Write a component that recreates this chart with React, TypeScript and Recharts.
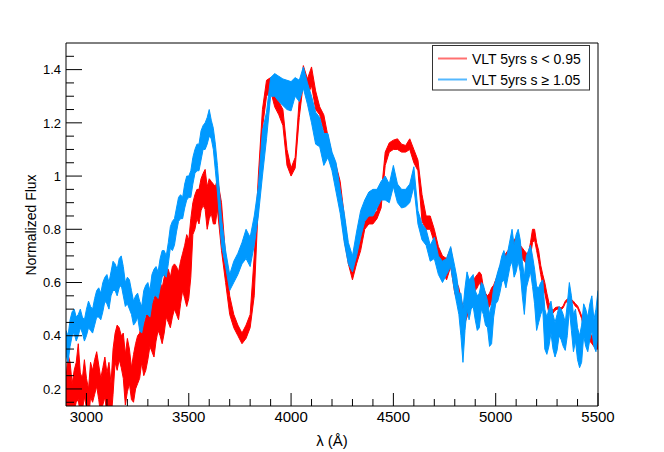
import React from "react";
import { ComposedChart, Area, XAxis, YAxis, ReferenceArea } from "recharts";

// wavelength grid (Å), 20 Å steps
const LAMBDA = [
  2900, 2920, 2940, 2960, 2980, 3000, 3020, 3040, 3060, 3080, 3100, 3120, 3140, 3160, 3180, 3200, 3220, 3240, 3260, 3280,
  3300, 3320, 3340, 3360, 3380, 3400, 3420, 3440, 3460, 3480, 3500, 3520, 3540, 3560, 3580, 3600, 3620, 3640, 3660, 3680,
  3700, 3720, 3740, 3760, 3780, 3800, 3820, 3840, 3860, 3880, 3900, 3920, 3940, 3960, 3980, 4000, 4020, 4040, 4060, 4080,
  4100, 4120, 4140, 4160, 4180, 4200, 4220, 4240, 4260, 4280, 4300, 4320, 4340, 4360, 4380, 4400, 4420, 4440, 4460, 4480,
  4500, 4520, 4540, 4560, 4580, 4600, 4620, 4640, 4660, 4680, 4700, 4720, 4740, 4760, 4780, 4800, 4820, 4840, 4860, 4880,
  4900, 4920, 4940, 4960, 4980, 5000, 5020, 5040, 5060, 5080, 5100, 5120, 5140, 5160, 5180, 5200, 5220, 5240, 5260, 5280,
  5300, 5320, 5340, 5360, 5380, 5400, 5420, 5440, 5460, 5480, 5500,
];

// VLT 5yrs s < 0.95 (red band)
const RED_LO = [
  0.10, 0.10, 0.12, 0.16, 0.12, 0.13, 0.17, 0.18, 0.16, 0.14, 0.10, 0.08, 0.30, 0.31, 0.24, 0.19, 0.16, 0.20, 0.24, 0.25,
  0.31, 0.34, 0.38, 0.40, 0.41, 0.45, 0.47, 0.48, 0.52, 0.54, 0.54, 0.78, 0.84, 0.87, 0.875, 0.84, 0.82, 0.875, 0.72, 0.60,
  0.48, 0.43, 0.40, 0.37, 0.39, 0.43, 0.55, 0.90, 1.18, 1.30, 1.32, 1.26, 1.23, 1.19, 1.04, 1.00, 1.03, 1.22, 1.35, 1.30,
  1.34, 1.25, 1.23, 1.17, 1.08, 1.04, 0.99, 0.92, 0.76, 0.67, 0.61, 0.67, 0.72, 0.80, 0.82, 0.82, 0.84, 0.88, 1.04, 1.09,
  1.10, 1.10, 1.09, 1.09, 1.10, 1.05, 1.02, 0.83, 0.80, 0.80, 0.75, 0.685, 0.64, 0.61, 0.66, 0.56, 0.52, 0.44, 0.47, 0.55,
  0.57, 0.60, 0.53, 0.50, 0.53, 0.56, 0.61, 0.65, 0.68, 0.70, 0.72, 0.71, 0.68, 0.67, 0.75, 0.72, 0.63, 0.56, 0.485, 0.485,
  0.50, 0.497, 0.522, 0.532, 0.522, 0.505, 0.465, 0.41, 0.38, 0.36, 0.35,
];
const RED_HI = [
  0.24, 0.30, 0.27, 0.37, 0.24, 0.24, 0.30, 0.31, 0.29, 0.28, 0.26, 0.22, 0.41, 0.43, 0.41, 0.39, 0.28, 0.37, 0.41, 0.44,
  0.52, 0.55, 0.58, 0.60, 0.62, 0.65, 0.66, 0.66, 0.68, 0.74, 0.76, 0.90, 0.95, 0.99, 1.025, 0.99, 0.97, 0.99, 0.90, 0.70,
  0.55, 0.48, 0.44, 0.41, 0.44, 0.48, 0.70, 1.00, 1.25, 1.36, 1.37, 1.32, 1.28, 1.25, 1.10, 1.03, 1.07, 1.29, 1.415, 1.365,
  1.41, 1.32, 1.26, 1.23, 1.15, 1.08, 1.04, 0.98, 0.85, 0.72, 0.65, 0.72, 0.76, 0.85, 0.86, 0.85, 0.87, 0.93, 1.09, 1.125,
  1.135, 1.14, 1.12, 1.115, 1.14, 1.10, 1.06, 0.93, 0.85, 0.85, 0.80, 0.735, 0.70, 0.69, 0.73, 0.63, 0.58, 0.51, 0.55, 0.60,
  0.62, 0.64, 0.58, 0.55, 0.58, 0.61, 0.66, 0.70, 0.72, 0.74, 0.77, 0.74, 0.72, 0.71, 0.80, 0.75, 0.665, 0.60, 0.525, 0.495,
  0.508, 0.505, 0.53, 0.54, 0.53, 0.513, 0.475, 0.43, 0.41, 0.40, 0.40,
];

// VLT 5yrs s >= 1.05 (blue band)
const BLUE_LO = [
  0.33, 0.36, 0.41, 0.40, 0.41, 0.40, 0.42, 0.44, 0.47, 0.49, 0.52, 0.55, 0.57, 0.58, 0.55, 0.52, 0.48, 0.45, 0.42, 0.45,
  0.48, 0.52, 0.55, 0.58, 0.63, 0.67, 0.72, 0.79, 0.84, 0.88, 0.92, 0.97, 1.02, 1.06, 1.10, 1.15, 1.10, 0.94, 0.74, 0.66,
  0.57, 0.60, 0.63, 0.67, 0.69, 0.66, 0.74, 0.85, 1.00, 1.14, 1.30, 1.30, 1.28, 1.265, 1.25, 1.245, 1.30, 1.28, 1.33, 1.27,
  1.20, 1.12, 1.11, 1.04, 1.07, 1.02, 0.94, 0.86, 0.75, 0.67, 0.64, 0.70, 0.77, 0.83, 0.85, 0.85, 0.88, 0.91, 0.91, 0.90,
  0.96, 0.90, 0.88, 0.885, 0.90, 0.96, 0.82, 0.76, 0.74, 0.68, 0.69, 0.63, 0.60, 0.63, 0.66, 0.56, 0.48, 0.30, 0.50, 0.50,
  0.46, 0.43, 0.48, 0.43, 0.37, 0.52, 0.56, 0.61, 0.62, 0.68, 0.64, 0.64, 0.48, 0.61, 0.585, 0.42, 0.48, 0.35, 0.36, 0.35,
  0.345, 0.385, 0.345, 0.50, 0.34, 0.31, 0.30, 0.36, 0.385, 0.36, 0.40,
];
const BLUE_HI = [
  0.42, 0.46, 0.50, 0.48, 0.47, 0.50, 0.51, 0.54, 0.58, 0.60, 0.63, 0.64, 0.67, 0.69, 0.66, 0.62, 0.57, 0.55, 0.53, 0.57,
  0.60, 0.63, 0.66, 0.69, 0.72, 0.75, 0.83, 0.88, 0.93, 0.97, 1.00, 1.07, 1.12, 1.17, 1.20, 1.25, 1.18, 1.04, 0.84, 0.72,
  0.63, 0.68, 0.71, 0.75, 0.80, 0.77, 0.85, 0.96, 1.17, 1.24, 1.37, 1.385, 1.375, 1.365, 1.36, 1.355, 1.37, 1.36, 1.41, 1.35,
  1.30, 1.24, 1.22, 1.16, 1.16, 1.09, 1.05, 0.95, 0.86, 0.75, 0.70, 0.79, 0.87, 0.91, 0.94, 0.95, 0.95, 0.98, 1.00, 0.97,
  1.04, 0.97, 0.95, 0.95, 0.97, 1.035, 0.87, 0.82, 0.80, 0.74, 0.77, 0.70, 0.68, 0.69, 0.735, 0.66, 0.56, 0.50, 0.64, 0.62,
  0.57, 0.56, 0.59, 0.53, 0.52, 0.61, 0.665, 0.72, 0.72, 0.80, 0.78, 0.76, 0.62, 0.72, 0.70, 0.585, 0.60, 0.50, 0.50, 0.48,
  0.48, 0.50, 0.45, 0.60, 0.48, 0.43, 0.44, 0.50, 0.52, 0.46, 0.57,
];

// extra samples in the noisy parts of the spectra (odd 10 Å positions)
const LAMBDA_FINE = [
  2910, 2930, 2950, 2970, 2990, 3010, 3030, 3050, 3070, 3090, 3110, 3130, 3150, 3170, 3190, 3210, 3230, 3250, 3270, 3290,
  3310, 3330, 3350, 3370, 3390, 3410, 3430, 3450, 3470, 3490, 3510, 3530, 3550, 3570, 3590, 3610, 3630,
  4810, 4830, 4850, 4870, 4890, 4910, 4930, 4950, 4970, 4990, 5010, 5030, 5050, 5070, 5090, 5110, 5130, 5150, 5170, 5190,
  5210, 5230, 5250, 5270, 5290, 5310, 5330, 5350, 5370, 5390, 5410, 5430, 5450, 5470, 5490,
];
const RED_LO_FINE = [
  0.14, 0.08, 0.15, 0.10, 0.17, 0.08, 0.15, 0.21, 0.10, 0.17, 0.13, 0.18, 0.27, 0.28, 0.14, 0.22, 0.15, 0.22, 0.30, 0.27,
  0.36, 0.32, 0.42, 0.37, 0.47, 0.43, 0.50, 0.46, 0.57, 0.51, 0.62, 0.80, 0.82, 0.89, 0.80, 0.86, 0.82,
  0.54, 0.47, 0.45, 0.51, 0.56, 0.58, 0.58, 0.50, 0.51, 0.54, 0.58, 0.63, 0.66, 0.69, 0.71, 0.73, 0.69, 0.67, 0.70, 0.76,
  0.68, 0.59, 0.52, 0.485, 0.495, 0.50, 0.505, 0.53, 0.528, 0.51, 0.485, 0.43, 0.39, 0.37, 0.35,
];
const RED_HI_FINE = [
  0.33, 0.22, 0.30, 0.26, 0.31, 0.20, 0.27, 0.34, 0.24, 0.32, 0.30, 0.35, 0.44, 0.40, 0.33, 0.35, 0.33, 0.40, 0.46, 0.47,
  0.54, 0.53, 0.60, 0.58, 0.65, 0.62, 0.67, 0.64, 0.71, 0.78, 0.84, 0.93, 0.95, 1.01, 0.96, 0.98, 0.96,
  0.60, 0.54, 0.52, 0.58, 0.61, 0.63, 0.63, 0.56, 0.56, 0.59, 0.63, 0.68, 0.71, 0.73, 0.76, 0.77, 0.73, 0.71, 0.75, 0.80,
  0.72, 0.63, 0.56, 0.505, 0.505, 0.508, 0.513, 0.538, 0.536, 0.52, 0.495, 0.45, 0.41, 0.40, 0.39,
];
const BLUE_LO_FINE = [
  0.30, 0.40, 0.38, 0.43, 0.38, 0.43, 0.41, 0.47, 0.46, 0.53, 0.50, 0.57, 0.55, 0.59, 0.51, 0.50, 0.44, 0.47, 0.41, 0.48,
  0.47, 0.55, 0.54, 0.62, 0.62, 0.73, 0.74, 0.83, 0.84, 0.91, 0.92, 1.01, 1.02, 1.10, 1.12, 1.14, 1.02,
  0.52, 0.40, 0.42, 0.46, 0.51, 0.42, 0.50, 0.44, 0.36, 0.47, 0.53, 0.60, 0.58, 0.66, 0.62, 0.68, 0.55, 0.58, 0.64, 0.52,
  0.45, 0.50, 0.33, 0.41, 0.32, 0.40, 0.36, 0.40, 0.42, 0.38, 0.28, 0.40, 0.34, 0.42, 0.34,
];
const BLUE_HI_FINE = [
  0.40, 0.49, 0.47, 0.50, 0.46, 0.53, 0.50, 0.57, 0.56, 0.62, 0.60, 0.68, 0.65, 0.70, 0.60, 0.61, 0.53, 0.56, 0.51, 0.59,
  0.57, 0.65, 0.64, 0.72, 0.70, 0.81, 0.84, 0.92, 0.92, 1.00, 1.02, 1.10, 1.12, 1.19, 1.22, 1.21, 1.12,
  0.62, 0.56, 0.58, 0.61, 0.63, 0.55, 0.60, 0.56, 0.48, 0.58, 0.64, 0.70, 0.69, 0.76, 0.74, 0.80, 0.68, 0.70, 0.74, 0.65,
  0.58, 0.61, 0.47, 0.53, 0.45, 0.51, 0.48, 0.52, 0.55, 0.50, 0.40, 0.52, 0.47, 0.55, 0.50,
];

const X_TICKS = [
  3000, 3100, 3200, 3300, 3400, 3500, 3600, 3700, 3800, 3900, 4000, 4100, 4200, 4300, 4400, 4500, 4600, 4700, 4800, 4900,
  5000, 5100, 5200, 5300, 5400, 5500,
];
const Y_TICKS = [
  0.15, 0.2, 0.25, 0.3, 0.35, 0.4, 0.45, 0.5, 0.55, 0.6, 0.65, 0.7, 0.75, 0.8, 0.85, 0.9, 0.95, 1, 1.05, 1.1, 1.15, 1.2,
  1.25, 1.3, 1.35, 1.4, 1.45,
];

const X_MIN = 2900;
const X_MAX = 5500;
const Y_MIN = 0.136;
const Y_MAX = 1.5;

const RED = "#ff0000";
const BLUE = "#0099ff";
const FONT = "'Liberation Sans', Arial, Helvetica, sans-serif";

const data = [
  ...LAMBDA.map((lam, i) => ({
    lam,
    red: [RED_LO[i], RED_HI[i]],
    blue: [BLUE_LO[i], BLUE_HI[i]],
  })),
  ...LAMBDA_FINE.map((lam, i) => ({
    lam,
    red: [RED_LO_FINE[i], RED_HI_FINE[i]],
    blue: [BLUE_LO_FINE[i], BLUE_HI_FINE[i]],
  })),
].sort((a, b) => a.lam - b.lam);

function XTick(props: any) {
  const { x, y, payload } = props;
  const v = payload.value as number;
  const major = v % 500 === 0;
  return (
    <g>
      <line x1={x} x2={x} y1={y} y2={y - (major ? 13 : 7)} stroke="#000" />
      {major && (
        <text x={x} y={y + 16} textAnchor="middle" fontSize={15} fontFamily={FONT} fill="#000">
          {v}
        </text>
      )}
    </g>
  );
}

function YTick(props: any) {
  const { x, y, payload } = props;
  const v = payload.value as number;
  const major = Math.abs(v * 5 - Math.round(v * 5)) < 1e-6;
  return (
    <g>
      <line x1={x} x2={x + (major ? 16 : 8)} y1={y} y2={y} stroke="#000" />
      {major && (
        <text x={x - 5} y={y + 4.7} textAnchor="end" fontSize={13} fontFamily={FONT} fill="#000">
          {String(v)}
        </text>
      )}
    </g>
  );
}

export default function App() {
  return (
    <div style={{ position: "absolute", left: 0, top: 0, width: 664, height: 452, background: "#fff" }}>
      <ComposedChart
        width={664}
        height={452}
        data={data}
        margin={{ top: 43, right: 66, bottom: 16, left: 0 }}
      >
        <XAxis
          dataKey="lam"
          type="number"
          domain={[X_MIN, X_MAX]}
          ticks={X_TICKS}
          interval={0}
          allowDataOverflow
          height={30}
          tickSize={0}
          tickMargin={0}
          tickLine={false}
          axisLine={false}
          tick={(p: any) => <XTick {...p} />}
        />
        <YAxis
          type="number"
          domain={[Y_MIN, Y_MAX]}
          ticks={Y_TICKS}
          interval={0}
          allowDataOverflow
          width={66}
          tickSize={0}
          tickMargin={0}
          tickLine={false}
          axisLine={false}
          tick={(p: any) => <YTick {...p} />}
        />
        <Area
          dataKey="red"
          type="linear"
          stroke={RED}
          strokeWidth={1}
          fill={RED}
          fillOpacity={1}
          dot={false}
          activeDot={false}
          isAnimationActive={false}
        />
        <Area
          dataKey="blue"
          type="linear"
          stroke={BLUE}
          strokeWidth={1}
          fill={BLUE}
          fillOpacity={1}
          dot={false}
          activeDot={false}
          isAnimationActive={false}
        />
        <ReferenceArea
          x1={X_MIN}
          x2={X_MAX}
          y1={Y_MIN}
          y2={Y_MAX}
          fill="none"
          stroke="#000"
          strokeWidth={1}
          ifOverflow="visible"
        />
      </ComposedChart>
      <svg
        width={664}
        height={452}
        style={{ position: "absolute", left: 0, top: 0, pointerEvents: "none" }}
        fontFamily={FONT}
      >
        <text x={332} y={446} textAnchor="middle" fontSize={15}>
          λ (Å)
        </text>
        <text x={36} y={225} textAnchor="middle" fontSize={14} transform="rotate(-90 36 225)">
          Normalized Flux
        </text>
        <rect x={432.5} y={45.5} width={157} height={44.5} fill="#fff" stroke="#333" strokeWidth={1} />
        <line x1={438} x2={467} y1={58.5} y2={58.5} stroke="#ff7070" strokeWidth={2} />
        <text x={472} y={63.5} fontSize={14}>
          VLT 5yrs s &lt; 0.95
        </text>
        <line x1={438} x2={467} y1={79.5} y2={79.5} stroke="#55b8ff" strokeWidth={2} />
        <text x={472} y={84.5} fontSize={14}>
          VLT 5yrs s ≥ 1.05
        </text>
      </svg>
    </div>
  );
}
